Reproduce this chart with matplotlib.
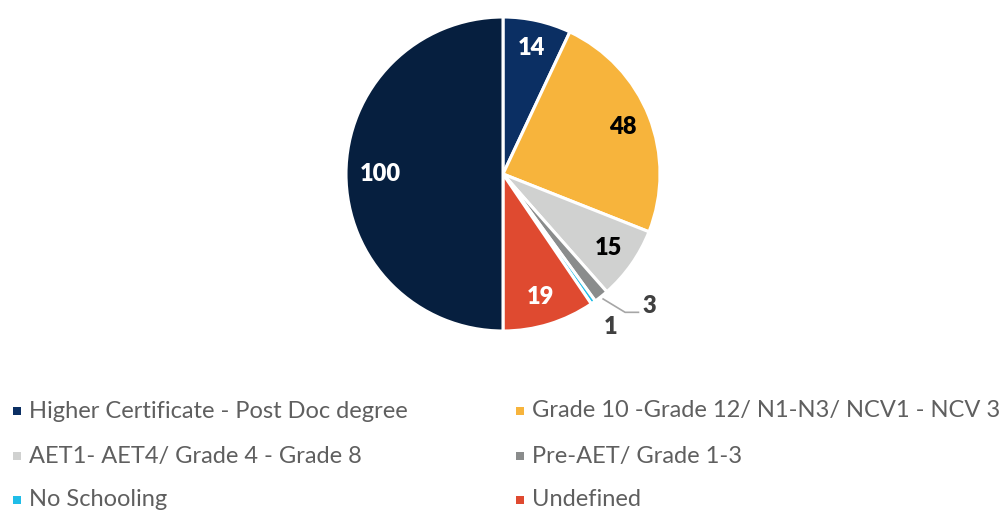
import numpy as np
import matplotlib
matplotlib.use('Agg')
import matplotlib.pyplot as plt
from matplotlib.patches import Rectangle

# slice values, clockwise from 12 o'clock
values = [14, 48, 15, 3, 1, 19, 100]
slice_colors = ['#0b2f63', '#f7b43c', '#d0d1d0', '#8a8c8c', '#1fbde8', '#df4a30', '#061f3f']
label_colors = ['white', 'black', 'black', '#404040', '#404040', 'white', 'white']

legend_labels = ['Higher Certificate - Post Doc degree', 'Grade 10 -Grade 12/ N1-N3/ NCV1 - NCV 3',
                 'AET1- AET4/ Grade 4 - Grade 8', 'Pre-AET/ Grade 1-3',
                 'No Schooling', 'Undefined']
legend_colors = ['#0b2f63', '#f7b43c', '#d0d1d0', '#8a8c8c', '#1fbde8', '#df4a30']

W, H = 1008, 512
fig = plt.figure(figsize=(W / 100, H / 100), dpi=100)

# pie centre / radius in pixels
cx, cy, rad = 503, H - 174, 157
k = 1.35
ax = fig.add_axes([(cx - rad * k) / W, (cy - rad * k) / H, 2 * rad * k / W, 2 * rad * k / H])

wedges, _ = ax.pie(values, colors=slice_colors, startangle=90, counterclock=False,
                   radius=1, wedgeprops=dict(edgecolor='white', linewidth=2.2))
# pie() resets the limits, so set them afterwards
ax.set_xlim(-k, k)
ax.set_ylim(-k, k)
ax.set_aspect('equal')
ax.axis('off')

num_font = dict(family='Lato', weight='heavy', fontsize=17)
for i, w in enumerate(wedges):
    ang = np.deg2rad((w.theta1 + w.theta2) / 2)
    v = values[i]
    if v == 3:
        # leader line out to the right
        x0, y0 = 1.02 * np.cos(ang), 1.02 * np.sin(ang)
        x1, y1 = x0 + 0.14, y0 - 0.085
        x2 = x1 + 0.085
        ax.plot([x0, x1, x2], [y0, y1, y1], color='#a6a6a6', lw=1.2)
        ax.text(x2 + 0.025, y1 - 0.03, str(v), color=label_colors[i], ha='left', va='bottom', **num_font)
    elif v == 1:
        r = 1.19
        ax.text(r * np.cos(ang), r * np.sin(ang), str(v), color=label_colors[i],
                ha='center', va='center', **num_font)
    else:
        r = 0.78 if v == 100 else 0.82
        ax.text(r * np.cos(ang), r * np.sin(ang), str(v), color=label_colors[i],
                ha='center', va='center', **num_font)

# legend, two columns, row-wise
col_x = [17, 520]
row_y = [411, 456, 500]
for i, (lab, col) in enumerate(zip(legend_labels, legend_colors)):
    x = col_x[i % 2]
    y = row_y[i // 2]
    fig.patches.append(Rectangle(((x - 4) / W, (H - y - 4) / H), 8 / W, 8 / H,
                                 transform=fig.transFigure, facecolor=col, edgecolor='none'))
    fig.text((x + 12) / W, (H - y) / H, lab, ha='left', va='center',
             family='Lato', fontsize=17, color='#5f5f5f')

fig.savefig('out.png', dpi=100)
